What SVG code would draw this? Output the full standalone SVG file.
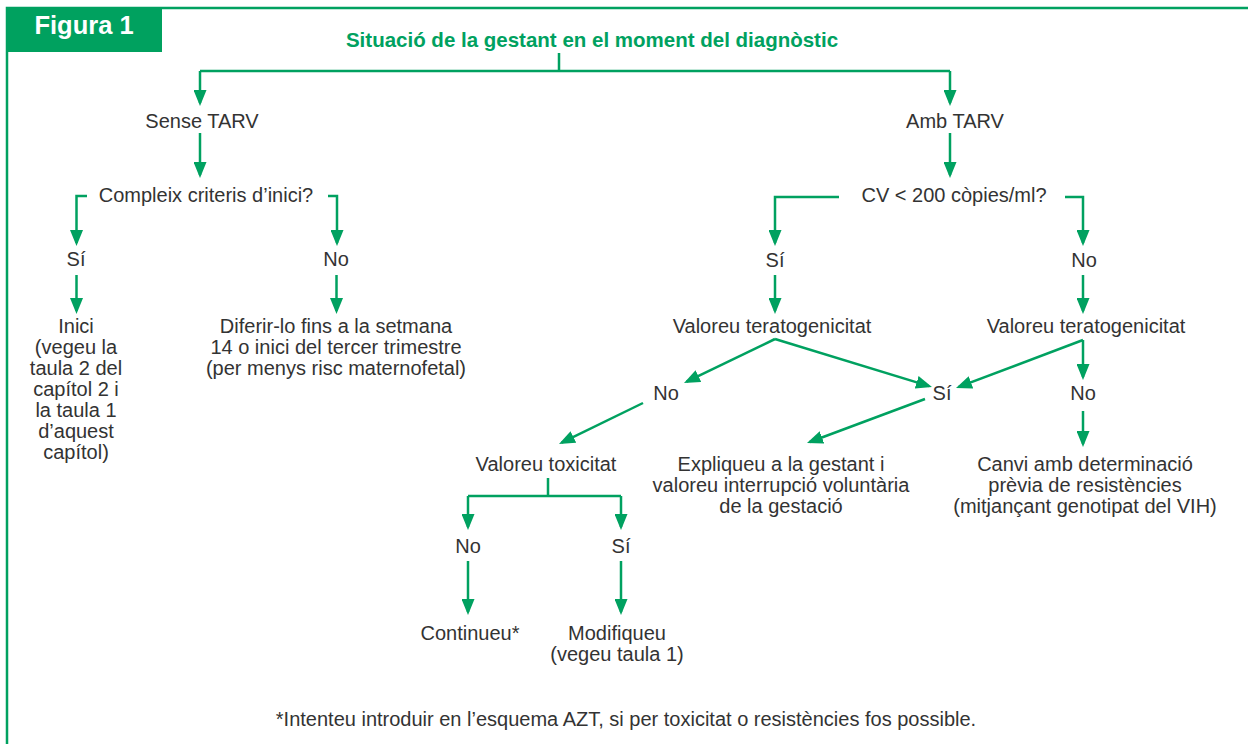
<svg xmlns="http://www.w3.org/2000/svg" width="1248" height="744" viewBox="0 0 1248 744">
<style>
.t{font-family:"Liberation Sans",Arial,Helvetica,sans-serif;font-size:20px;fill:#333;text-anchor:middle}
.ti{font-family:"Liberation Sans",Arial,Helvetica,sans-serif;font-size:20.5px;font-weight:bold;fill:#00a160;text-anchor:middle}
.fig{font-family:"Liberation Sans",Arial,Helvetica,sans-serif;font-size:25.5px;font-weight:bold;fill:#fff;text-anchor:middle}
.c{fill:none;stroke:#00a160;stroke-width:2.5}
.a{marker-end:url(#ah)}
</style>
<defs>
<marker id="ah" viewBox="0 0 16 13" refX="13" refY="6.5" markerWidth="16" markerHeight="13" markerUnits="userSpaceOnUse" orient="auto">
<path d="M0,0 L16,6.5 L0,13 z" fill="#00a160"/>
</marker>
</defs>
<rect width="1248" height="744" fill="#fff"/>
<g id="frame">
<path class="c" d="M7,744 V8 H1248"/>
<rect x="7" y="8" width="155" height="44" fill="#00a15f"/>
<text class="fig" x="84" y="34">Figura 1</text>
</g>
<g id="connectors">
<path class="c" d="M559,53 V71 M200,71 H950"/>
<path class="c a" d="M200,71 V103"/>
<path class="c a" d="M950,71 V103"/>
<path class="c a" d="M200,133 V175"/>
<path class="c a" d="M950,133 V175"/>
<path class="c a" d="M87,196 H76.5 V243"/>
<path class="c a" d="M328,196 H337 V243"/>
<path class="c a" d="M76.5,275 V311"/>
<path class="c a" d="M336.5,275 V311"/>
<path class="c a" d="M839,197 H775 V243"/>
<path class="c a" d="M1065,197 H1083 V243"/>
<path class="c a" d="M775,275 V311"/>
<path class="c a" d="M1083,275 V311"/>
<path class="c a" d="M775,339 L686.7,381.7"/>
<path class="c a" d="M775,339 L929.1,386.1"/>
<path class="c a" d="M1083,340 L958.8,386.9"/>
<path class="c a" d="M1083,340 V377"/>
<path class="c a" d="M643,403 L561.7,442.7"/>
<path class="c a" d="M925,399 L809.8,442"/>
<path class="c a" d="M1083,411 V444"/>
<path class="c" d="M548,478 V496 M468,496 H621"/>
<path class="c a" d="M468,496 V527"/>
<path class="c a" d="M621,496 V527"/>
<path class="c a" d="M468,561 V612"/>
<path class="c a" d="M621,561 V612"/>
</g>
<g id="n-title"><text class="ti" x="592" y="47">Situació de la gestant en el moment del diagnòstic</text></g>
<g id="n-sense"><text class="t" x="202" y="128">Sense TARV</text></g>
<g id="n-amb"><text class="t" x="955" y="128">Amb TARV</text></g>
<g id="n-compleix"><text class="t" x="206" y="202">Compleix criteris d’inici?</text></g>
<g id="n-cv"><text class="t" x="954" y="202">CV &lt; 200 còpies/ml?</text></g>
<g id="n-si1"><text class="t" x="76" y="266">Sí</text></g>
<g id="n-no1"><text class="t" x="336" y="266">No</text></g>
<g id="n-si2"><text class="t" x="775" y="267">Sí</text></g>
<g id="n-no2"><text class="t" x="1084" y="267">No</text></g>
<g id="n-inici"><text class="t" y="333"><tspan x="76">Inici</tspan><tspan x="76" dy="21">(vegeu la</tspan><tspan x="76" dy="21">taula 2 del</tspan><tspan x="76" dy="21">capítol 2 i</tspan><tspan x="76" dy="21">la taula 1</tspan><tspan x="76" dy="21">d’aquest</tspan><tspan x="76" dy="21">capítol)</tspan></text></g>
<g id="n-diferir"><text class="t" y="333"><tspan x="336">Diferir-lo fins a la setmana</tspan><tspan x="336" dy="21">14 o inici del tercer trimestre</tspan><tspan x="336" dy="21">(per menys risc maternofetal)</tspan></text></g>
<g id="n-terat1"><text class="t" x="772" y="333">Valoreu teratogenicitat</text></g>
<g id="n-terat2"><text class="t" x="1086" y="333">Valoreu teratogenicitat</text></g>
<g id="n-no3"><text class="t" x="666" y="400">No</text></g>
<g id="n-si3"><text class="t" x="942" y="400">Sí</text></g>
<g id="n-no4"><text class="t" x="1083" y="400">No</text></g>
<g id="n-toxic"><text class="t" x="546" y="471">Valoreu toxicitat</text></g>
<g id="n-expliqueu"><text class="t" y="471"><tspan x="781">Expliqueu a la gestant i</tspan><tspan x="781" dy="21">valoreu interrupció voluntària</tspan><tspan x="781" dy="21">de la gestació</tspan></text></g>
<g id="n-canvi"><text class="t" y="471"><tspan x="1085">Canvi amb determinació</tspan><tspan x="1085" dy="21">prèvia de resistències</tspan><tspan x="1085" dy="21">(mitjançant genotipat del VIH)</tspan></text></g>
<g id="n-no5"><text class="t" x="468" y="553">No</text></g>
<g id="n-si5"><text class="t" x="621" y="553">Sí</text></g>
<g id="n-continueu"><text class="t" x="470" y="640">Continueu*</text></g>
<g id="n-modifiqueu"><text class="t" y="640"><tspan x="617">Modifiqueu</tspan><tspan x="617" dy="21">(vegeu taula 1)</tspan></text></g>
<g id="n-foot"><text class="t" x="626" y="726">*Intenteu introduir en l’esquema AZT, si per toxicitat o resistències fos possible.</text></g>
</svg>
